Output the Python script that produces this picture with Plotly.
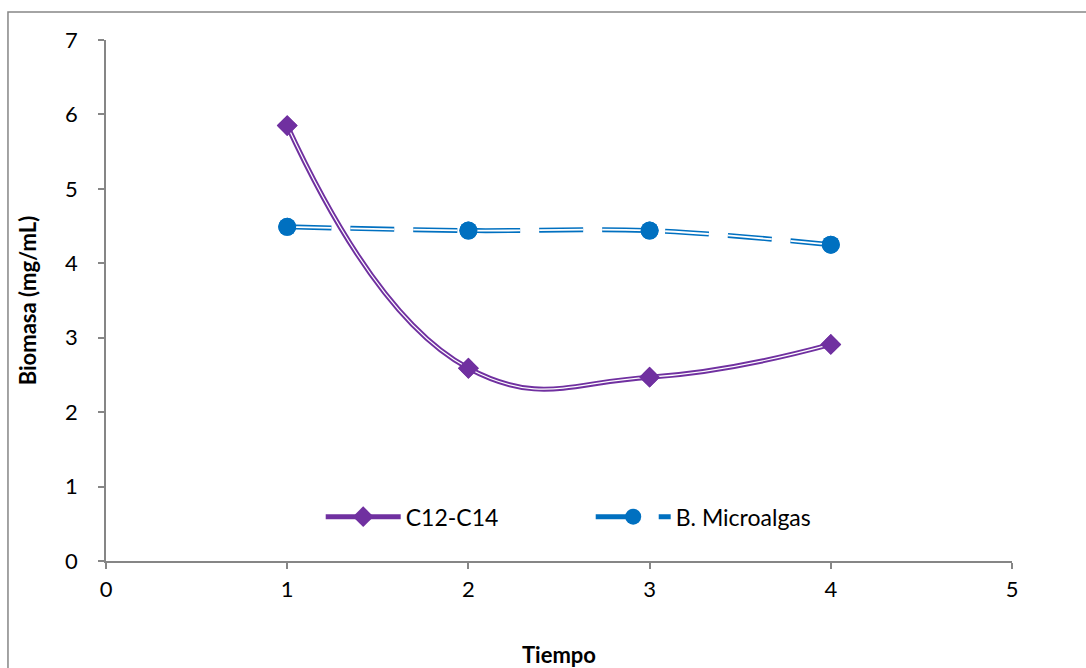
import plotly.graph_objects as go

tiempo = [1, 2, 3, 4]
c12_c14 = [5.85, 2.59, 2.47, 2.91]
microalgas = [4.49, 4.44, 4.44, 4.25]

purple = "#7030A0"
blue = "#0070C0"
font = "Lato"
dash = "44px,19px"

fig = go.Figure()
# C12-C14 double line
fig.add_trace(go.Scatter(x=tiempo, y=c12_c14, mode="lines+markers", name="C12-C14",
                         line=dict(color=purple, width=5, shape="spline", smoothing=1.3),
                         marker=dict(symbol="diamond", size=16, color=purple)))
fig.add_trace(go.Scatter(x=tiempo, y=c12_c14, mode="lines", showlegend=False, hoverinfo="skip",
                         line=dict(color="white", width=1.2, shape="spline", smoothing=1.3)))
fig.add_trace(go.Scatter(x=tiempo, y=c12_c14, mode="markers", showlegend=False, hoverinfo="skip",
                         marker=dict(symbol="diamond", size=16, color=purple)))
# Microalgas double dashed line
fig.add_trace(go.Scatter(x=tiempo, y=microalgas, mode="lines+markers", name="B. Microalgas",
                         line=dict(color=blue, width=5, dash=dash, shape="spline", smoothing=1),
                         marker=dict(symbol="circle", size=18, color=blue)))
fig.add_trace(go.Scatter(x=tiempo, y=microalgas, mode="lines", showlegend=False, hoverinfo="skip",
                         line=dict(color="white", width=1.8, dash=dash, shape="spline", smoothing=1)))
fig.add_trace(go.Scatter(x=tiempo, y=microalgas, mode="markers", showlegend=False, hoverinfo="skip",
                         marker=dict(symbol="circle", size=18, color=blue)))

axis_common = dict(showgrid=False, zeroline=False, showline=True, linecolor="#868686", linewidth=1.5,
                   ticks="outside", ticklen=6, tickcolor="#868686", tickwidth=1.5, automargin=False,
                   tickfont=dict(family=font, size=22, color="black"))

fig.update_layout(
    width=1086, height=668,
    margin=dict(l=106, r=74, t=40, b=107),
    plot_bgcolor="white", paper_bgcolor="white",
    font=dict(family=font, color="black"),
    xaxis=dict(range=[0, 5], dtick=1, **axis_common, ticklabelstandoff=2,
               title=dict(text="<b>Tiempo</b>", font=dict(family=font, size=22), standoff=50)),
    yaxis=dict(range=[0, 7], dtick=1, **axis_common, ticklabelstandoff=16,
               title=dict(text="<b>Biomasa (mg/mL)</b>", font=dict(family=font, size=22), standoff=22)),
    legend=dict(orientation="h", x=0.535, xanchor="center", y=0.085, yanchor="middle",
                font=dict(family=font, size=23), itemwidth=75, entrywidth=180,
                bgcolor="rgba(0,0,0,0)"),
    showlegend=True,
    shapes=[dict(type="rect", xref="paper", yref="paper", x0=-0.1082, x1=1.2, y0=-0.4, y1=1.0537,
                 line=dict(color="#868686", width=1.5), fillcolor="rgba(0,0,0,0)", layer="below")],
)

fig.write_html("out.html")
